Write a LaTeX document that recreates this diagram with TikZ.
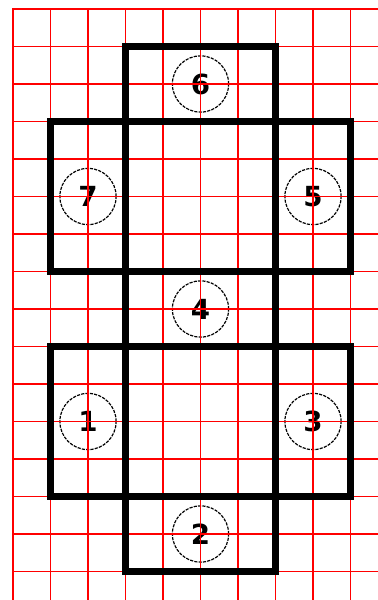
\documentclass[tikz,border=0pt]{standalone}
\usepackage{fontspec}
\setmainfont{DejaVu Sans}
\usepackage{tikz}
\usetikzlibrary{positioning}
\definecolor{rojo}{HTML}{FF0000}
\tikzset{
  cuadricula/.style={draw=rojo,line width=1.25pt,line cap=rect},
  borde/.style={draw=black,line width=4.6pt},
  cara/.style={circle,draw=black,dashed,dash pattern=on 2.4pt off 0.9pt,line width=0.9pt,minimum size=15mm,inner sep=0pt,font=\fontsize{21}{24}\selectfont\bfseries},
}

\begin{document}
\begin{tikzpicture}
  \useasboundingbox (-0.3467,0.24) rectangle (9.7333,-15.76);
  \clip (-0.3467,0.24) rectangle (9.7333,-15.76);
  % caras
  \node[cara] (c6) at (5,-2) {6};
  \node[cara] (c7) at (2,-5) {7};
  \node[cara] (c5) at (8,-5) {5};
  \node[cara] (c4) at (5,-8) {4};
  \node[cara] (c1) at (2,-11) {1};
  \node[cara] (c3) at (8,-11) {3};
  \node[cara] (c2) at (5,-14) {2};
  % cuadricula
  \foreach \i in {0,...,10}
    \draw[cuadricula] (\i,0) -- (\i,-16.5);
  \foreach \j in {0,...,16}
    \draw[cuadricula] (0,-\j) -- (10.5,-\j);
  % desarrollo del cubo
  \draw[borde] (3,-1) rectangle (7,-15);
  \draw[borde] (1,-3) rectangle (3,-7);
  \draw[borde] (7,-3) rectangle (9,-7);
  \draw[borde] (1,-9) rectangle (3,-13);
  \draw[borde] (7,-9) rectangle (9,-13);
  \draw[borde] (3,-3) -- (7,-3);
  \draw[borde] (3,-7) -- (7,-7);
  \draw[borde] (3,-9) -- (7,-9);
  \draw[borde] (3,-13) -- (7,-13);
\end{tikzpicture}
\end{document}
